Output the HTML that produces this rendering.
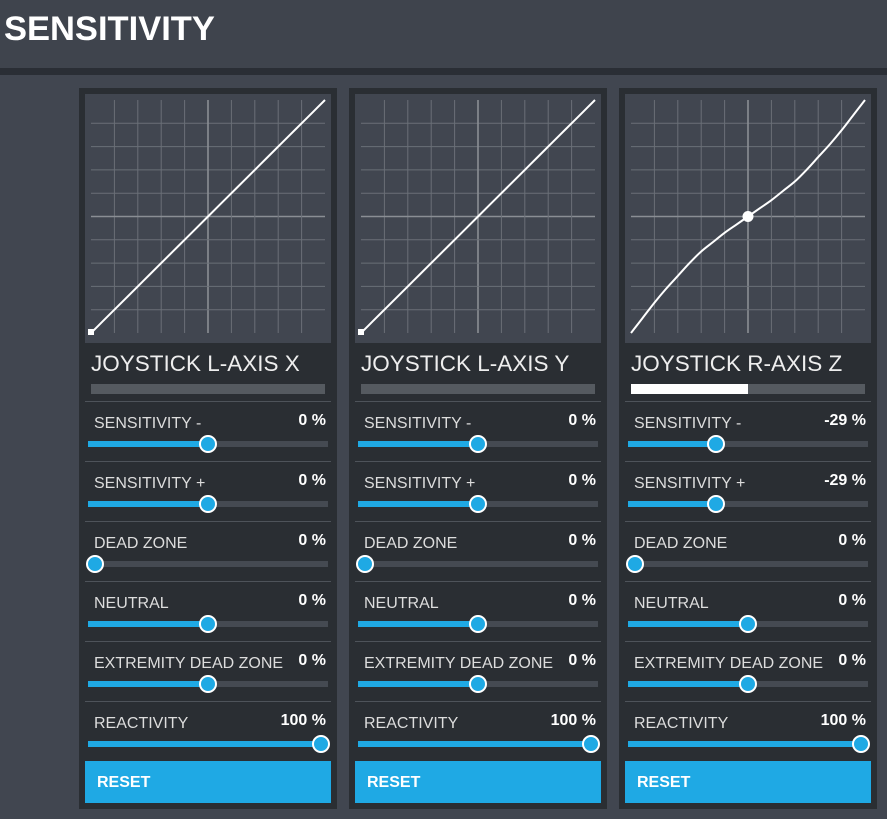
<!DOCTYPE html>
<html><head><meta charset="utf-8">
<style>
body{margin:0;width:887px;height:819px;background:#414650;font-family:"Liberation Sans",sans-serif;overflow:hidden;position:relative;color:#e8e8e8}
.hdr{position:absolute;left:0;top:0;width:887px;height:68px;background:#3f444d}
.hdr h1{position:absolute;left:4px;top:10px;margin:0;font-size:34.5px;font-weight:bold;color:#fff}
.bar{position:absolute;left:0;top:68px;width:887px;height:7px;background:#2a2e35}
.panel{position:absolute;top:88px;width:258px;height:721px;background:#2a2e33}
.chart{position:absolute;left:6px;top:6px;width:246px;height:249px;background:#414650}
.title{position:absolute;left:12px;top:263px;font-size:22.5px;color:#eee}
.prog{position:absolute;left:12px;top:296px;width:234px;height:10px;background:#555a60}
.prog i{position:absolute;left:0;top:0;height:10px;background:#fff}
.row{position:absolute;left:6px;width:246px;height:60px;border-top:1px solid #4e535a}
.row .lab{position:absolute;left:9px;top:13px;font-size:16px;color:#ddd}
.row .val{position:absolute;right:5px;top:10px;font-size:16px;font-weight:bold;color:#fff}
.track{position:absolute;left:3px;top:39px;width:240px;height:6px;background:#454a52}
.fill{position:absolute;left:0;top:0;height:6px;background:#1fa9e4}
.knob{position:absolute;top:-6px;width:14px;height:14px;margin-left:-9px;border-radius:50%;background:#1fa9e4;border:2px solid #fff}
.reset{position:absolute;left:6px;top:673px;width:246px;height:42px;background:#1fa9e4;color:#fff;font-weight:bold;font-size:16px;line-height:44px;box-sizing:border-box;padding-left:12px}
</style></head><body>
<div class="hdr"><h1>SENSITIVITY</h1></div>
<div class="bar"></div>
<div id="root"></div>
<script>
const panelTitles=["JOYSTICK L-AXIS X","JOYSTICK L-AXIS Y","JOYSTICK R-AXIS Z"];
const rowLabels=["SENSITIVITY -","SENSITIVITY +","DEAD ZONE","NEUTRAL","EXTREMITY DEAD ZONE","REACTIVITY"];
const rowValues=[[0,0,0,0,0,100],[0,0,0,0,0,100],[-29,-29,0,0,0,100]];
const sliderPos=[[0.5,0.5,0,0.5,0.5,1],[0.5,0.5,0,0.5,0.5,1],[0.36,0.36,0,0.5,0.5,1]];
const progress=[0,0,0.5];
const curveX=[-1,-0.9,-0.8,-0.7,-0.6,-0.5,-0.4,-0.3,-0.2,-0.1,0,0.1,0.2,0.3,0.4,0.5,0.6,0.7,0.8,0.9,1];
const curveLinear=[-1,-0.9,-0.8,-0.7,-0.6,-0.5,-0.4,-0.3,-0.2,-0.1,0,0.1,0.2,0.3,0.4,0.5,0.6,0.7,0.8,0.9,1];
const curveZ=[-1,-0.87,-0.74,-0.62,-0.51,-0.40,-0.30,-0.22,-0.14,-0.07,0,0.07,0.14,0.22,0.30,0.40,0.51,0.62,0.74,0.87,1];
const curves=[curveLinear,curveLinear,curveZ];
const NS="http://www.w3.org/2000/svg";
const root=document.getElementById('root');
const gx0=6,gx1=240,gy0=6,gy1=239;
const sx=v=>gx0+(v+1)/2*(gx1-gx0), sy=v=>gy1-(v+1)/2*(gy1-gy0);
panelTitles.forEach((t,p)=>{
  const P=document.createElement('div');P.className='panel';P.style.left=(79+270*p)+'px';
  
  
  const c=document.createElement('div');c.className='chart';
  
  
  const svg=document.createElementNS(NS,'svg');svg.setAttribute('width',246);svg.setAttribute('height',249);
  let s='';
  for(let i=1;i<10;i++){const x=gx0+i*(gx1-gx0)/10,y=gy0+i*(gy1-gy0)/10;const col=i==5?'#8a8e94':'#6a6f77',w=i==5?1.6:1;
    s+=`<line x1="${x}" y1="${gy0}" x2="${x}" y2="${gy1}" stroke="${col}" stroke-width="${w}"/><line x1="${gx0}" y1="${y}" x2="${gx1}" y2="${y}" stroke="${col}" stroke-width="${w}"/>`;}
  svg.innerHTML=s;
  const ys=curves[p];
  const pts=curveX.map((x,i)=>[sx(x),sy(ys[i])]);
  let d='M'+pts[0][0]+' '+pts[0][1];
  for(let i=0;i<pts.length-1;i++){const p0=pts[Math.max(0,i-1)],p1=pts[i],p2=pts[i+1],p3=pts[Math.min(pts.length-1,i+2)];
    d+=` C${p1[0]+(p2[0]-p0[0])/6} ${p1[1]+(p2[1]-p0[1])/6} ${p2[0]-(p3[0]-p1[0])/6} ${p2[1]-(p3[1]-p1[1])/6} ${p2[0]} ${p2[1]}`;}
  const path=document.createElementNS(NS,'path');path.setAttribute('d',d);path.setAttribute('fill','none');path.setAttribute('stroke','#fff');path.setAttribute('stroke-width','2');
  
  
  svg.appendChild(path);
  if(p<2){const r=document.createElementNS(NS,'rect');r.setAttribute('x',sx(-1)-3);r.setAttribute('y',sy(-1)-4);r.setAttribute('width',6);r.setAttribute('height',6);r.setAttribute('fill','#fff');
    
    
    svg.appendChild(r);}
  else{const ci=document.createElementNS(NS,'circle');ci.setAttribute('cx',sx(0));ci.setAttribute('cy',sy(0));ci.setAttribute('r',5.5);ci.setAttribute('fill','#fff');
    
    
    svg.appendChild(ci);}
  c.appendChild(svg);P.appendChild(c);
  const ti=document.createElement('div');ti.className='title';ti.textContent=t;
  
  
  P.appendChild(ti);
  const pr=document.createElement('div');pr.className='prog';pr.innerHTML=`<i style="width:${progress[p]*100}%"></i>`;
  
  
  P.appendChild(pr);
  rowLabels.forEach((l,r)=>{
    const R=document.createElement('div');R.className='row';R.style.top=(313+60*r)+'px';
    
    
    const v=sliderPos[p][r];
    const kx=7+v*226;
    R.innerHTML=`<div class="lab">${l}</div><div class="val">${rowValues[p][r]} %</div><div class="track"><div class="fill" style="width:${kx}px"></div><div class="knob" style="left:${kx}px"></div></div>`;
    const tr=R.querySelector('.track');
    
    
    R.querySelector('.lab');
    R.querySelector('.lab');
    R.querySelector('.val');
    R.querySelector('.val');
    R.querySelector('.knob');
    R.querySelector('.knob');
    P.appendChild(R);
  });
  const b=document.createElement('div');b.className='reset';b.textContent='RESET';
  
  
  P.appendChild(b);
  root.appendChild(P);
});
</script>
</body></html>
